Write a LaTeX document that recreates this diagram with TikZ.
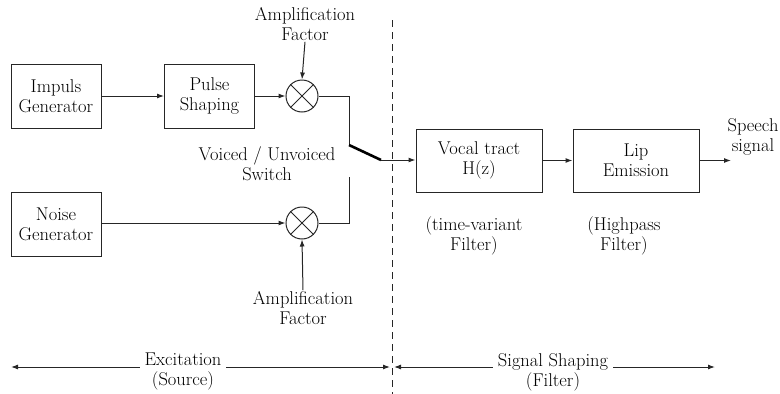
\documentclass[tikz,border=0pt]{standalone}
\usetikzlibrary{arrows.meta}
\begin{document}
\begin{tikzpicture}[x=1pt,y=-1pt,
  font=\fontsize{18.5}{20}\selectfont,
  line/.style={draw=black!85, line width=1pt},
  arr/.style={line, -{Latex[length=7pt,width=5pt]}},
  box/.style={draw=black!85, line width=1pt, align=center, minimum width=90pt, minimum height=64pt, inner sep=0pt},
  wbox/.style={box, minimum width=126pt, minimum height=63pt},
  mult/.style={draw=black!85, line width=1pt, circle, minimum size=32pt, inner sep=0pt},
  lbl/.style={align=center, inner sep=1pt}]
\useasboundingbox (0,0) rectangle (780,394);
\node[box] (imp) at (56,96) {Impuls\\Generator};
\node[box] (pul) at (209.5,96) {Pulse\\Shaping};
\node[box] (noi) at (56,224) {Noise\\Generator};
\node[mult] (m1) at (302,96) {};
\node[mult] (m2) at (302,223) {};
\draw[line] (m1.north west) -- (m1.south east) (m1.north east) -- (m1.south west);
\draw[line] (m2.north west) -- (m2.south east) (m2.north east) -- (m2.south west);
\node[lbl] (af1) at (305,24) {Amplification\\Factor};
\node[lbl] (af2) at (303,308) {Amplification\\Factor};
\node[lbl] (sw) at (267,164) {Voiced / Unvoiced\\Switch};
\node[wbox] (vt) at (479,160.5) {Vocal tract\\H(z)};
\node[wbox] (lip) at (636,160.5) {Lip\\Emission};
\node[lbl] (sp) at (753,137) {Speech\\signal};
\node[lbl] (tv) at (474,236) {(time-variant\\Filter)};
\node[lbl] (hp) at (624,236) {(Highpass\\Filter)};
\coordinate (s1) at (349,145);
\coordinate (s2) at (381,160);
\coordinate (s3) at (349,177);
\coordinate (out) at (731,160.5);
\draw[arr] (imp) -- (pul);
\draw[arr] (pul) -- (m1);
\draw[arr] (noi.east |- m2) -- (m2);
\draw[arr] (af1.south) -- (m1.north);
\draw[arr] (af2.north) -- (m2.south);
\draw[line] (m1.east) -| (s1);
\draw[line width=2.6pt] (s1) -- (s2);
\draw[arr] (s2) -- (vt.west |- s2);
\draw[line] (s3) |- (m2.east);
\draw[arr] (vt) -- (lip);
\draw[arr] (lip) -- (out);
\coordinate (dtop) at (392,20);
\coordinate (dbot) at (392,394);
\draw[line, dash pattern=on 7pt off 5pt] (dtop) -- (dbot);
\coordinate (la) at (11,367);
\coordinate (lb) at (390,367);
\coordinate (ra) at (394,367);
\coordinate (rb) at (715,367);
\draw[line, {Latex[length=7pt,width=5pt]}-{Latex[length=7pt,width=5pt]}] (la) -- (lb);
\draw[line, {Latex[length=7pt,width=5pt]}-{Latex[length=7pt,width=5pt]}] (ra) -- (rb);
\node[lbl, fill=white, inner xsep=5pt] (ex) at (183,372) {Excitation\\(Source)};
\node[lbl, fill=white, inner xsep=5pt] (ss) at (553,372) {Signal Shaping\\(Filter)};
\end{tikzpicture}
\end{document}
